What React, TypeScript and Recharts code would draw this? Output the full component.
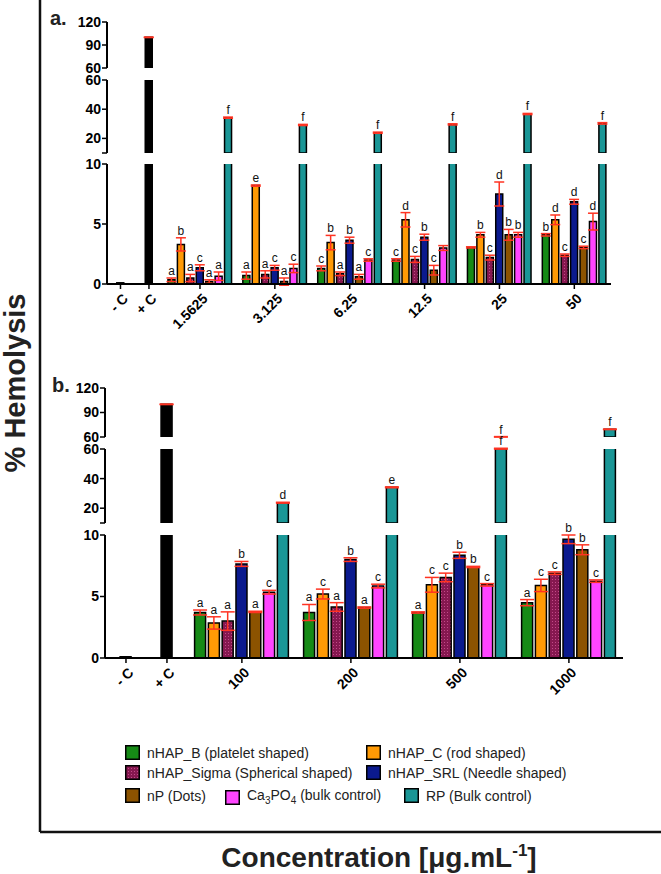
import React from "react";
import { BarChart, Bar, XAxis, YAxis, Cell, ErrorBar, LabelList } from "recharts";

const SERIES = [
  "nHAP_B (platelet shaped)",
  "nHAP_C (rod shaped)",
  "nHAP_Sigma (Spherical shaped)",
  "nHAP_SRL (Needle shaped)",
  "nP (Dots)",
  "Ca3PO4 (bulk control)",
  "RP (Bulk control)",
];
const COLORS = ["#168a16", "#ff9a05", "url(#sigmaDots)", "#0b1a8e", "#8c5300", "#ff45ff", "#1a9696"];
const LEGEND_COLORS = ["#168a16", "#ff9a05", "#8a1a55", "#0b1a8e", "#8c5300", "#ff45ff", "#1a9696"];

const CONTROLS = ["- C", "+ C"];
const CTRL_MEAN = [0.1, 100];
const CTRL_ERR = [0, 0.3];

// panel a
const CONC_A = ["1.5625", "3.125", "6.25", "12.5", "25", "50"];
const A_B = [0.35, 0.7, 1.3, 2.0, 3.05, 4.1];
const A_C = [3.3, 8.2, 3.45, 5.35, 4.1, 5.35];
const A_SIGMA = [0.5, 0.8, 0.85, 2.05, 2.2, 2.4];
const A_SRL = [1.35, 1.35, 3.65, 3.9, 7.5, 6.85];
const A_NP = [0.2, 0.2, 0.6, 1.15, 4.1, 3.05];
const A_CA = [0.65, 1.3, 2.0, 3.0, 4.1, 5.2];
const A_RP = [34.2, 29.2, 23.9, 29.6, 36.7, 30.3];
const A_ERR_B = [0.15, 0.3, 0.2, 0.1, 0.05, 0.1];
const A_ERR_C = [0.55, 0.05, 0.6, 0.6, 0.2, 0.4];
const A_ERR_SIGMA = [0.3, 0.3, 0.15, 0.25, 0.2, 0.1];
const A_ERR_SRL = [0.25, 0.2, 0.25, 0.25, 1.0, 0.2];
const A_ERR_NP = [0.15, 0.3, 0.2, 0.4, 0.45, 0.1];
const A_ERR_CA = [0.35, 0.35, 0.1, 0.2, 0.2, 0.7];
const A_ERR_RP = [0.4, 0.4, 0.4, 0.4, 0.4, 0.5];
const A_LETTERS = ["abacaaf", "aeacacf", "cbabacf", "cdcbc-f", "-bcdbbf", "bdcdcdf"];

// panel b
const CONC_B = ["100", "200", "500", "1000"];
const B_B = [3.7, 3.7, 3.7, 4.5];
const B_C = [2.85, 5.2, 5.95, 5.9];
const B_SIGMA = [3.0, 4.15, 6.55, 6.9];
const B_SRL = [7.65, 8.0, 8.35, 9.65];
const B_NP = [3.75, 4.1, 7.4, 8.8];
const B_CA = [5.35, 5.85, 5.95, 6.25];
const B_RP = [23.7, 34.1, 60.2, 69.4];
const B_ERR_B = [0.2, 0.65, 0.05, 0.25];
const B_ERR_C = [0.5, 0.4, 0.6, 0.5];
const B_ERR_SIGMA = [0.75, 0.35, 0.35, 0.1];
const B_ERR_SRL = [0.2, 0.15, 0.25, 0.35];
const B_ERR_NP = [0.05, 0.05, 0.05, 0.4];
const B_ERR_CA = [0.15, 0.15, 0.1, 0.1];
const B_ERR_RP = [0.3, 0.3, 0.3, 0.3];
const B_LETTERS = ["aaabacd", "acabace", "accbbcf", "accbbcf"];

const W = 661;
const MT = 16;
const MB = 10;
const FONT = "'Liberation Sans', Arial, sans-serif";

const PANEL_A = {
  left: 107, right: 611, domain: 53.45, ctrlPos: [1.43, 4.45], start: 6.86, step: 7.94, barSize: 7, cap: 5,
  groups: CONC_A,
  means: [A_B, A_C, A_SIGMA, A_SRL, A_NP, A_CA, A_RP],
  errs: [A_ERR_B, A_ERR_C, A_ERR_SIGMA, A_ERR_SRL, A_ERR_NP, A_ERR_CA, A_ERR_RP],
  letters: A_LETTERS,
  segs: [
    { lo: 60, hi: 120, top: 22, bottom: 68, ticks: [60, 90, 120] },
    { lo: 10, hi: 60, top: 80, bottom: 153, ticks: [10, 20, 40, 60] },
    { lo: 0, hi: 10, top: 164, bottom: 284, ticks: [0, 5, 10] },
  ],
};

const PANEL_B = {
  left: 105, right: 623, domain: 37.54, ctrlPos: [1.52, 4.49], start: 6.92, step: 7.9, barSize: 11, cap: 7,
  groups: CONC_B,
  means: [B_B, B_C, B_SIGMA, B_SRL, B_NP, B_CA, B_RP],
  errs: [B_ERR_B, B_ERR_C, B_ERR_SIGMA, B_ERR_SRL, B_ERR_NP, B_ERR_CA, B_ERR_RP],
  letters: B_LETTERS,
  segs: [
    { lo: 60, hi: 120, top: 388, bottom: 437, ticks: [60, 90, 120] },
    { lo: 10, hi: 60, top: 449, bottom: 523, ticks: [10, 20, 40, 60] },
    { lo: 0, hi: 10, top: 535, bottom: 658, ticks: [0, 5, 10] },
  ],
};

const buildRows = (p: any) => {
  const rows: any[] = [];
  CONTROLS.forEach((_, i) =>
    rows.push({ pos: p.ctrlPos[i], v: CTRL_MEAN[i], err: CTRL_ERR[i], lbl: "", color: "#000" })
  );
  p.groups.forEach((_: string, gi: number) =>
    p.means.forEach((m: number[], si: number) => {
      const l = p.letters[gi][si];
      rows.push({
        pos: p.start + gi * p.step + si,
        v: m[gi],
        err: p.errs[si][gi],
        lbl: l === "-" ? "" : l,
        color: COLORS[si],
      });
    })
  );
  return rows;
};

const makeLabel = (pxPerUnit: number) => (props: any) => {
  const { value } = props;
  if (!value) return null;
  const vb = props.viewBox || props;
  const [txt, e] = String(value).split("|");
  const yTop = Math.min(vb.y, vb.y + vb.height);
  return (
    <text x={vb.x + vb.width / 2} y={yTop - Number(e) * pxPerUnit - 3} textAnchor="middle" fontSize={12} fill="#111">
      {txt}
    </text>
  );
};

const makeXTick = (tickPos: number[], labels: string[]) => (props: any) => {
  const { x, y, payload } = props;
  const i = tickPos.indexOf(payload.value);
  return (
    <g transform={`translate(${x + 5},${y + 5})`}>
      <text transform="rotate(-45)" textAnchor="end" dy="0.35em" fontSize={14} fontWeight={700} fill="#000">
        {labels[i]}
      </text>
    </g>
  );
};

const Segment = ({ panel, seg, isBottom }: any) => {
  const rows = buildRows(panel);
  const plotH = seg.bottom - seg.top;
  const xAxisH = isBottom ? 60 : 0;
  const mb = isBottom ? 0 : MB;
  const pxPerUnit = plotH / (seg.hi - seg.lo);
  const data = rows.map((r) => {
    const inSeg = r.v > seg.lo && r.v <= seg.hi + 0.5;
    return {
      pos: r.pos,
      v: r.v > seg.lo ? r.v : null,
      err: inSeg && r.err ? r.err : null,
      tag: inSeg && r.lbl ? `${r.lbl}|${r.err}` : null,
      color: r.color,
    };
  });
  const tickPos = [...panel.ctrlPos, ...panel.groups.map((_: string, gi: number) => panel.start + gi * panel.step + 3)];
  const tickLabels = [...CONTROLS, ...panel.groups];
  return (
    <div style={{ position: "absolute", left: 0, top: seg.top - MT }}>
      <BarChart
        width={W}
        height={MT + plotH + xAxisH + mb}
        data={data}
        margin={{ top: MT, right: W - panel.right, bottom: mb, left: panel.left - 40 }}
      >
        <XAxis
          type="number"
          dataKey="pos"
          domain={[0, panel.domain]}
          allowDataOverflow
          hide={!isBottom}
          height={xAxisH}
          ticks={tickPos}
          interval={0}
          tick={makeXTick(tickPos, tickLabels)}
          axisLine={{ stroke: "#000", strokeWidth: 2 }}
          tickLine={{ stroke: "#000", strokeWidth: 1.5 }}
          tickSize={5}
        />
        <YAxis
          type="number"
          domain={[seg.lo, seg.hi]}
          allowDataOverflow
          ticks={seg.ticks}
          interval={0}
          width={40}
          tickSize={5}
          tickMargin={1}
          tickFormatter={(v: number) => (seg.lo === 10 && v === 10 ? "" : String(v))}
          tick={{ fontSize: 14, fontWeight: 700, fill: "#000" }}
          axisLine={{ stroke: "#000", strokeWidth: 2 }}
          tickLine={{ stroke: "#000", strokeWidth: 1.5 }}
        />
        <Bar dataKey="v" barSize={panel.barSize} stroke="#000" strokeWidth={1.5} isAnimationActive={false}>
          {data.map((d, i) => (
            <Cell key={i} fill={d.color} />
          ))}
          <ErrorBar dataKey="err" width={panel.cap} stroke="#ff3322" strokeWidth={1.5} />
          <LabelList dataKey="tag" content={makeLabel(pxPerUnit)} />
        </Bar>
      </BarChart>
    </div>
  );
};

const LEGEND_POS = [
  [125, 745], [366, 745], [125, 765], [366, 765], [125, 788], [225, 788], [404, 788],
];

const LegendText = ({ name }: { name: string }) => {
  if (name.startsWith("Ca3PO4")) {
    return (
      <span>
        Ca<sub style={{ fontSize: 10 }}>3</sub>PO<sub style={{ fontSize: 10 }}>4</sub>
        {name.slice(6)}
      </span>
    );
  }
  return <span>{name}</span>;
};

export default function App() {
  return (
    <div style={{ position: "absolute", left: 0, top: 0, width: W, height: 874, fontFamily: FONT, background: "#fff" }}>
      <svg width={W} height={874} style={{ position: "absolute", left: 0, top: 0 }}>
        <defs>
          <pattern id="sigmaDots" width="3" height="3" patternUnits="userSpaceOnUse">
            <rect width="3" height="3" fill="#861850" />
            <rect width="1" height="1" fill="#c24a88" />
          </pattern>
        </defs>
        <line x1={40} y1={0} x2={40} y2={832} stroke="#111" strokeWidth={2.5} />
        <line x1={40} y1={832} x2={W} y2={832} stroke="#111" strokeWidth={2.5} />
        <text transform="translate(25,383) rotate(-90)" textAnchor="middle" fontSize={29} fontWeight={700} fill="#222">
          % Hemolysis
        </text>
        <text x={50} y={25} fontSize={20} fontWeight={700} fill="#222">a.</text>
        <text x={52} y={392} fontSize={20} fontWeight={700} fill="#222">b.</text>
        <text x={379} y={867} textAnchor="middle" fontSize={28} fontWeight={700} fill="#222">
          Concentration [μg.mL<tspan dy={-11} fontSize={17}>-1</tspan>
          <tspan dy={11}>]</tspan>
        </text>
      </svg>
      {PANEL_A.segs.map((s, i) => (
        <Segment key={`a${i}`} panel={PANEL_A} seg={s} isBottom={i === 2} />
      ))}
      {PANEL_B.segs.map((s, i) => (
        <Segment key={`b${i}`} panel={PANEL_B} seg={s} isBottom={i === 2} />
      ))}
      {SERIES.map((name, i) => (
        <div
          key={name}
          style={{
            position: "absolute",
            left: LEGEND_POS[i][0],
            top: LEGEND_POS[i][1],
            display: "flex",
            alignItems: "center",
            fontSize: 14,
            color: "#222",
            whiteSpace: "nowrap",
            lineHeight: "14px",
          }}
        >
          <svg width={15} height={15} style={{ marginRight: 7 }}>
            <rect x={0.75} y={0.75} width={13.5} height={13.5} fill={i === 2 ? "url(#sigmaDots)" : LEGEND_COLORS[i]} stroke="#000" strokeWidth={1.5} />
          </svg>
          <LegendText name={name} />
        </div>
      ))}
    </div>
  );
}
